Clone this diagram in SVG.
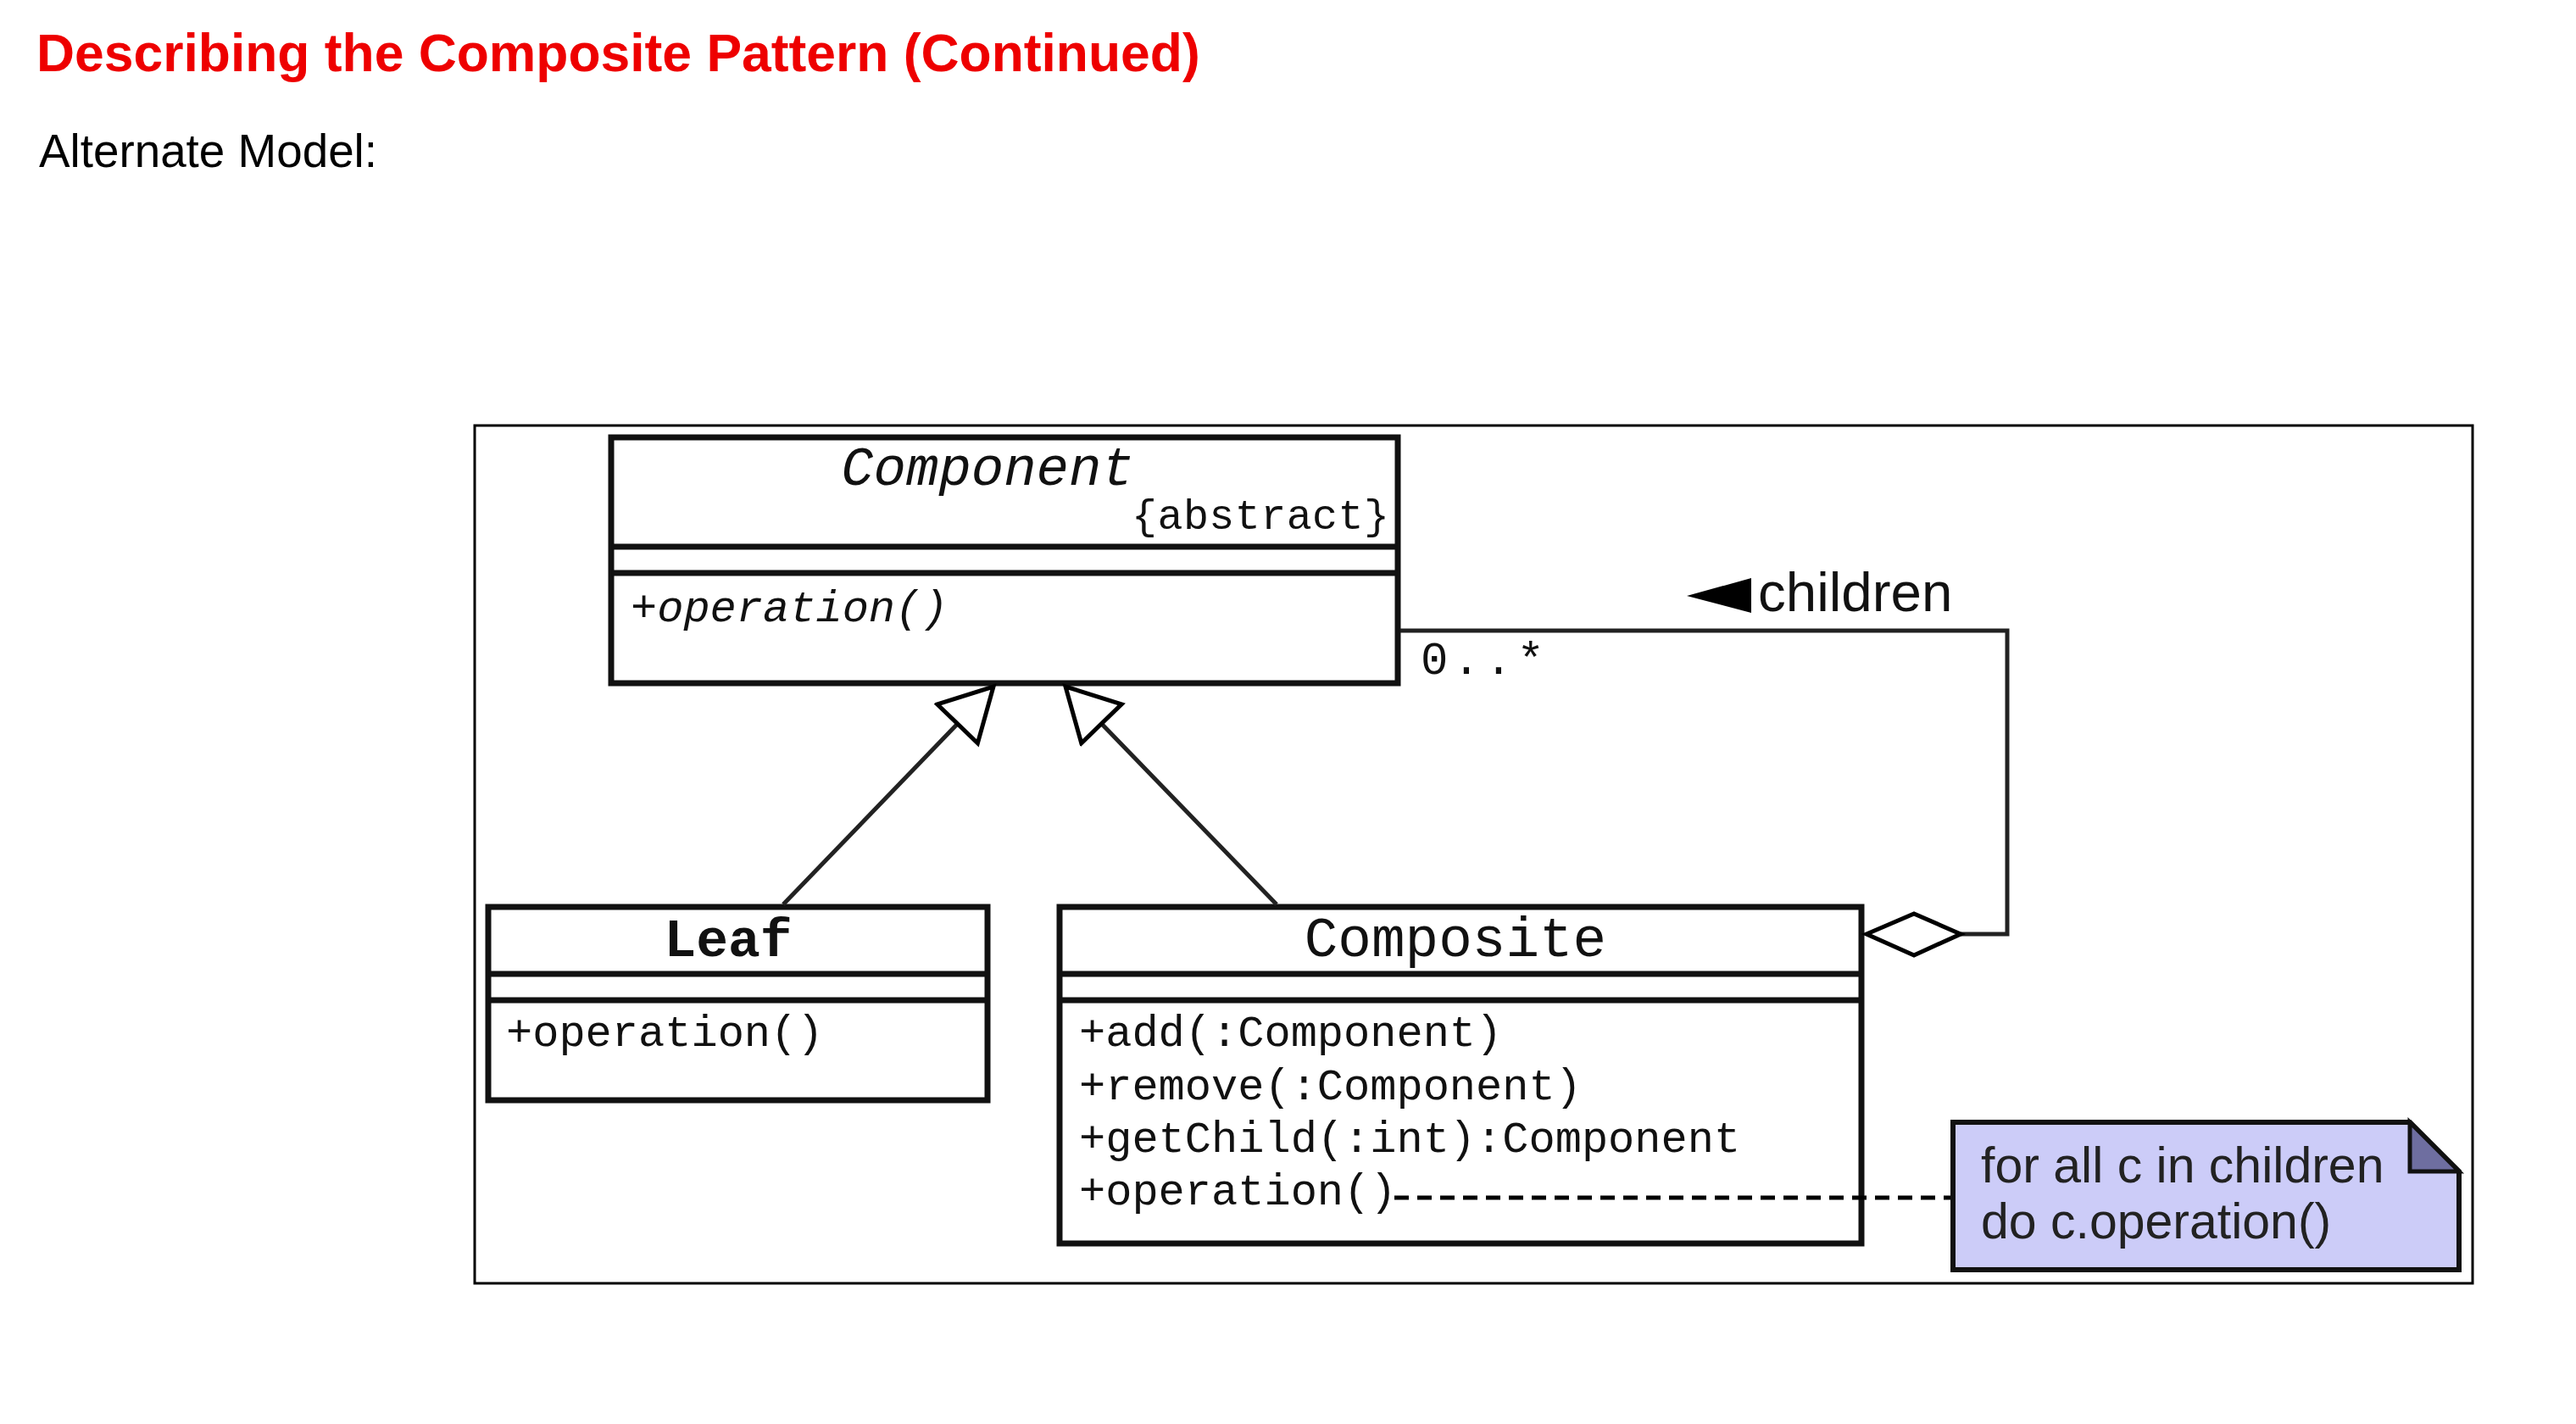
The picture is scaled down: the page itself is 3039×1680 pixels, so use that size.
<svg xmlns="http://www.w3.org/2000/svg" width="3039" height="1680" viewBox="0 0 3039 1680">
<style>
.box{fill:#fff;stroke:#111;stroke-width:7}
.div{stroke:#111;stroke-width:7}
.mono{font-family:"Liberation Mono","Courier New",monospace;fill:#111}
.sans{font-family:"Liberation Sans",Arial,sans-serif}
.conn{fill:none;stroke:#222;stroke-width:5}
</style>
<defs>
<marker id="gen" markerUnits="userSpaceOnUse" markerWidth="80" markerHeight="80" refX="64" refY="36" orient="auto">
<polygon points="3,3 64,36 3,69" fill="#fff" stroke="#000" stroke-width="5"/>
</marker>
</defs>
<rect width="3039" height="1680" fill="#fff"/>
<text x="43" y="84" class="sans" font-size="62.4" font-weight="bold" fill="#ee0000">Describing the Composite Pattern (Continued)</text>
<text x="46" y="197" class="sans" font-size="54.8" fill="#000">Alternate Model:</text>
<rect id="frame" x="560" y="502" width="2357" height="1012" fill="none" stroke="#000" stroke-width="3"/>
<g id="component">
<rect x="721" y="516" width="928" height="290" class="box"/>
<line x1="721" y1="645" x2="1649" y2="645" class="div"/>
<line x1="721" y1="676" x2="1649" y2="676" class="div"/>
<text x="1165" y="572" class="mono" font-size="64" font-style="italic" text-anchor="middle">Component</text>
<text x="1335" y="624" class="mono" font-size="50" textLength="304">{abstract}</text>
<text x="744" y="733" class="mono" font-size="52" font-style="italic">+operation()</text>
</g>
<g id="leaf">
<rect x="576" y="1070" width="589" height="228" class="box"/>
<line x1="576" y1="1149" x2="1165" y2="1149" class="div"/>
<line x1="576" y1="1180" x2="1165" y2="1180" class="div"/>
<text x="859" y="1128" class="mono" font-size="63" font-weight="bold" text-anchor="middle">Leaf</text>
<text x="597" y="1234" class="mono" font-size="52">+operation()</text>
</g>
<g id="composite">
<rect x="1250" y="1070" width="946" height="397" class="box"/>
<line x1="1250" y1="1149" x2="2196" y2="1149" class="div"/>
<line x1="1250" y1="1180" x2="2196" y2="1180" class="div"/>
<text x="1717" y="1128" class="mono" font-size="66" text-anchor="middle">Composite</text>
<text x="1273" y="1234" class="mono" font-size="52">+add(:Component)</text>
<text x="1273" y="1297" class="mono" font-size="52">+remove(:Component)</text>
<text x="1273" y="1359" class="mono" font-size="52">+getChild(:int):Component</text>
<text x="1273" y="1421" class="mono" font-size="52">+operation()</text>
</g>
<g id="note">
<path d="M2304,1324 H2843 L2901,1382 V1498 H2304 Z" fill="#ccccf8" stroke="#111" stroke-width="6"/>
<path d="M2843,1324 V1382 H2901 Z" fill="#6e6ea0" stroke="#111" stroke-width="5"/>
<text x="2337" y="1395" class="sans" font-size="59" fill="#222">for all c in children</text>
<text x="2337" y="1461" class="sans" font-size="59" fill="#222">do c.operation()</text>
</g>
<g id="connectors">
<line x1="924" y1="1067" x2="1172" y2="810" class="conn" stroke="#000" stroke-width="4" marker-end="url(#gen)"/>
<line x1="1506" y1="1067" x2="1257" y2="810" class="conn" stroke="#000" stroke-width="4" marker-end="url(#gen)"/>
<polyline points="1652,744 2368,744 2368,1102 2313,1102" class="conn"/>
<polygon points="2202,1102 2258,1078 2313,1102 2258,1127" fill="#fff" stroke="#000" stroke-width="5"/>
<polygon points="1990,703 2066,682 2066,723" fill="#000"/>
<text x="2074" y="721" class="sans" font-size="65.5" fill="#111">children</text>
<text x="1676" y="795" class="mono" font-size="54" fill="#222" textLength="146">0..*</text>
<line x1="1645" y1="1413" x2="2301" y2="1413" stroke="#000" stroke-width="5" stroke-dasharray="17 10"/>
</g>
</svg>
